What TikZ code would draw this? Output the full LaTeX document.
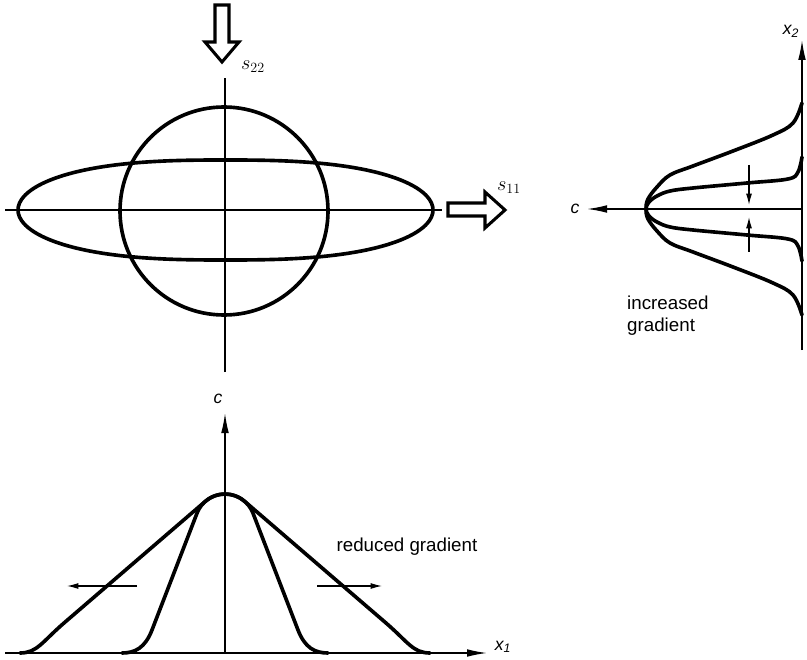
\documentclass[tikz,border=0pt]{standalone}
\usepackage{fontspec}
\setmainfont{Liberation Sans}
\usetikzlibrary{arrows.meta}

\begin{document}
\begin{tikzpicture}[x=0.03cm,y=0.03cm,
    curve/.style={line width=3.1pt, line join=round, line cap=round},
    axis/.style={line width=1.2pt},
    axisarrow/.style={axis, -{Latex[length=6mm,width=2.3mm]}},
    shiftarrow/.style={line width=1.1pt, -{Latex[length=3.4mm,width=1.8mm]}},
    openarrow/.style={line width=2.6pt, line join=miter},
    lbl/.style={font=\fontsize{16}{18.7}\selectfont},
    var/.style={font=\fontsize{15}{18}\selectfont\itshape}]
  \useasboundingbox (0,0) rectangle (807,659);

  % stress plane: circle and flattened ellipse
  \coordinate (tlW) at (5,449);
  \coordinate (tlE) at (442,449);
  \coordinate (tlS) at (225,287);
  \coordinate (tlN) at (225,581);
  \draw[axis] (tlW) -- (tlE);
  \draw[axis] (tlS) -- (tlN);
  \draw[curve] (224,448) circle[radius=104];
  \draw[curve] plot[smooth cycle, domain=0:356, samples=90]
    ({225.5+207.5*sign(cos(\x))*pow(abs(cos(\x)),0.76)}, {449+50*sin(\x)});

  % open arrows
  \draw[openarrow] (215,654) -- (229,654) -- (229,617) -- (239,617) -- (222,597)
    -- (205,617) -- (215,617) -- cycle;
  \node[var, font=\fontsize{17}{20}\selectfont] (s22) at (253,592) {$s_{22}$};
  \draw[openarrow] (448,443) -- (485,443) -- (485,431) -- (505,449) -- (485,467)
    -- (485,456) -- (448,456) -- cycle;
  \node[var, font=\fontsize{17}{20}\selectfont] (s11) at (509,471) {$s_{11}$};

  % c across x2
  \coordinate (rO) at (802,450);
  \coordinate (rB) at (802,309);
  \coordinate (rT) at (802,619);
  \coordinate (rL) at (587,450);
  \draw[axis] (rB) -- (rO);
  \draw[axisarrow] (rO) -- (rT);
  \draw[axisarrow] (rO) -- (rL);
  \node[var] (x2) at (791,628) {x\textsubscript{2}};
  \node[var] (cR) at (575,450) {c};
  \draw[curve] plot[smooth, tension=0.6] coordinates {(802,556) (793,536) (773,524)
    (733,508) (693,493) (670,484) (657,472) (648,460) (646,450) (648,440) (657,428)
    (670,416) (693,407) (733,392) (773,376) (793,364) (802,344)};
  \draw[curve] plot[smooth, tension=0.6] coordinates {(802,502) (798,487) (788,480)
    (747,476) (693,471) (670,468) (657,463) (649,457) (646,450) (649,443) (657,437)
    (670,432) (693,429) (747,424) (788,420) (798,413) (802,398)};
  \coordinate (dnA) at (749,494);
  \coordinate (dnB) at (749,454);
  \coordinate (upA) at (749,407);
  \coordinate (upB) at (749,442);
  \draw[shiftarrow] (dnA) -- (dnB);
  \draw[shiftarrow] (upA) -- (upB);
  \node[lbl, align=left, anchor=north west, inner sep=0pt] (incr) at (627,363)
    {increased\\gradient};

  % c across x1
  \coordinate (bW) at (5,6);
  \coordinate (bO) at (225,6);
  \coordinate (bE) at (487,6);
  \coordinate (bN) at (225,246);
  \draw[axisarrow] (bW) -- (bE);
  \draw[axisarrow] (bO) -- (bN);
  \node[var] (cB) at (218,260) {c};
  \node[var] (x1) at (503,12) {x\textsubscript{1}};
  \begin{scope}[shift={(225,0)}]
    \foreach \s in {-1,1} {
      \draw[curve, xscale=\s] (-205,6) .. controls (-188,6) and (-183,17) .. (-161,36)
        -- (-19.6,157.7) arc[start angle=130.7, end angle=90, radius=30];
      \draw[curve, xscale=\s] (-103,6) .. controls (-90,6) and (-80,11) .. (-73,29)
        -- (-28,145.8) arc[start angle=158.9, end angle=90, radius=30];
    }
  \end{scope}
  \coordinate (lfA) at (137,73);
  \coordinate (lfB) at (67,73);
  \coordinate (rtA) at (317,73);
  \coordinate (rtB) at (382,73);
  \draw[shiftarrow] (lfA) -- (lfB);
  \draw[shiftarrow] (rtA) -- (rtB);
  \node[lbl] (red) at (407,112) {reduced gradient};
\end{tikzpicture}
\end{document}
